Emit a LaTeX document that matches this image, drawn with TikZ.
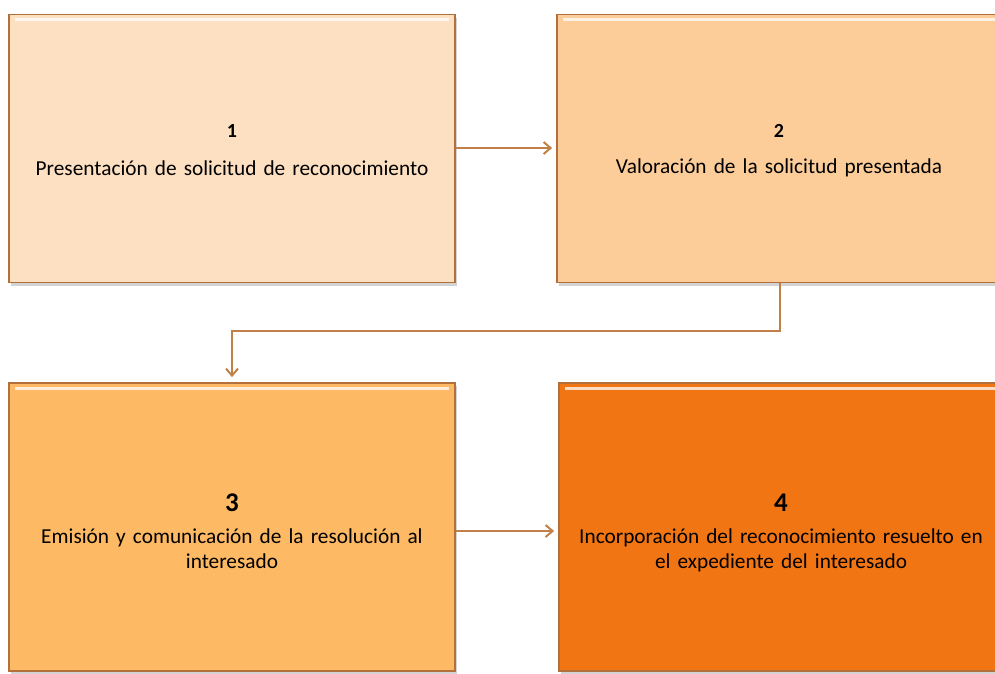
\documentclass[tikz,border=0pt]{standalone}
\usepackage{fontspec}
\setmainfont{Carlito}
\usetikzlibrary{arrows.meta,shadows}
\definecolor{fillA}{RGB}{253,224,193}
\definecolor{fillB}{RGB}{252,205,153}
\definecolor{fillC}{RGB}{253,185,100}
\definecolor{fillD}{RGB}{242,117,20}
\definecolor{edge}{RGB}{178,112,60}
\definecolor{arrowc}{RGB}{192,128,72}
\tikzset{
  x=1pt, y=-1pt,
  stepbox/.style={draw=edge, line width=1.8pt, minimum width=446pt, minimum height=268pt,
    inner sep=0pt, drop shadow={opacity=0.35, shadow xshift=2pt, shadow yshift=-3pt}},
  tallbox/.style={stepbox, minimum height=288pt},
  lbl/.style={align=center, font=\fontsize{21.3}{25}\selectfont, text width=440pt},
  num/.style={font=\bfseries\fontsize{20}{22}\selectfont},
  bignum/.style={font=\bfseries\fontsize{27}{30}\selectfont},
  conn/.style={draw=arrowc, line width=2pt, -{Straight Barb[length=7pt,width=12pt,line width=2pt]}},
  hl/.style={white, opacity=0.75, line width=3pt}
}
\begin{document}
\begin{tikzpicture}
\useasboundingbox (0,0) rectangle (995,673);
\clip (0,0) rectangle (995,673);
\node[stepbox, fill=fillA] (b1) at (232,148.5) {};
\node[stepbox, fill=fillB] (b2) at (780,148.5) {};
\node[tallbox, fill=fillC] (b3) at (232,527) {};
\node[tallbox, fill=fillD] (b4) at (782,527) {};
\foreach \b in {b1,b2,b3,b4}{
  \draw[hl] ([xshift=7pt,yshift=-6pt]\b.north west) -- ([xshift=-7pt,yshift=-6pt]\b.north east);
}
\node[num] (n1) at (232,131) {1};
\node[lbl] (t1) at (232,168) {Presentación de solicitud de reconocimiento};
\node[num] (n2) at (779,131) {2};
\node[lbl] (t2) at (779,168) {Valoración de la solicitud presentada};
\node[bignum] (n3) at (232,503) {3};
\node[lbl] (t3) at (232,549) {Emisión y comunicación de la resolución al\\interesado};
\node[bignum] (n4) at (781,503) {4};
\node[lbl] (t4) at (781,550) {Incorporación del reconocimiento resuelto en\\el expediente del interesado};
\draw[conn, shorten >=4pt] (b1.east |- 0,148) -- (b2.west |- 0,148);
\draw[conn, shorten >=5pt] (b2.south) -- ++(0,48) -| (b3.north);
\draw[conn, shorten >=4pt] (b3.east |- 0,531) -- (b4.west |- 0,531);
\end{tikzpicture}
\end{document}
